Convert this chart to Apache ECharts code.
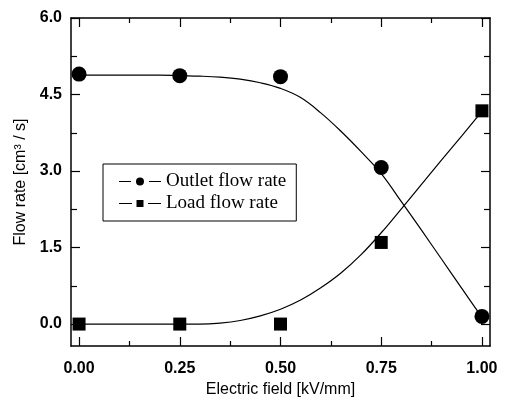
<!DOCTYPE html>
<html>
<head>
<meta charset="utf-8">
<script src="https://cdn.jsdelivr.net/npm/echarts@6/dist/echarts.min.js"></script>
<style>
	html, body {
		margin: 0;
		padding: 0;
		background: #fff;
	}
	#chart {
		width: 511px;
		height: 403px;
	}
</style>
</head>
<body>
<div id="chart"></div>
<script>
// measured points
const fieldX = [0, 0.25, 0.5, 0.75, 1.0];
const outletFlow = [4.9, 4.87, 4.85, 3.07, 0.15];
const loadFlow = [0, 0, 0, 1.6, 4.18];

// fitted curves
const fitX = [0, 0.05, 0.1, 0.15, 0.2, 0.25, 0.3, 0.35, 0.4, 0.45, 0.5, 0.55, 0.6, 0.65, 0.7, 0.75, 0.8, 0.85, 0.9, 0.95, 1.0];
const outletFit = [4.88, 4.88, 4.88, 4.88, 4.88, 4.87, 4.86, 4.84, 4.8, 4.73, 4.62, 4.44, 4.14, 3.78, 3.38, 2.95, 2.4, 1.84, 1.27, 0.7, 0.13];
const loadFit = [0, 0, 0, 0, 0, 0, 0, 0.02, 0.07, 0.16, 0.29, 0.47, 0.71, 1.0, 1.36, 1.79, 2.26, 2.74, 3.22, 3.69, 4.17];

// ticks
const xTicks = [0, 0.25, 0.5, 0.75, 1.0];
const xMinor = [0.125, 0.375, 0.625, 0.875];
const yTicks = [0, 1.5, 3.0, 4.5, 6.0];
const yMinor = [0.75, 2.25, 3.75, 5.25];

const pairs = (xs, ys) => xs.map((x, i) => [x, ys[i]]);

const labelFont = {
	fontFamily: "Liberation Sans",
	fontWeight: "bold",
	fontSize: 16,
	color: "#000",
};

function xAxisOf(pos, values, len, showLine, showLabel) {
	return {
		type: "value",
		position: pos,
		min: -0.02,
		max: 1.02,
		splitLine: { show: false },
		axisLine: { show: showLine, onZero: false, lineStyle: { color: "#000", width: 1.5 } },
		axisTick: { show: true, inside: true, length: len, customValues: values, lineStyle: { color: "#000", width: 1.2 } },
		axisLabel: showLabel
			? Object.assign({ show: true, margin: 15, customValues: values, formatter: (v) => v.toFixed(2) }, labelFont)
			: { show: false },
	};
}

function yAxisOf(pos, values, len, showLine, showLabel) {
	return {
		type: "value",
		position: pos,
		min: -0.43,
		max: 6.0,
		splitLine: { show: false },
		axisLine: { show: showLine, onZero: false, lineStyle: { color: "#000", width: 1.5 } },
		axisTick: { show: true, inside: true, length: len, customValues: values, lineStyle: { color: "#000", width: 1.2 } },
		axisLabel: showLabel
			? Object.assign({ show: true, margin: 9, customValues: values, formatter: (v) => v.toFixed(1) }, labelFont)
			: { show: false },
	};
}

let myChart = echarts.init(document.getElementById("chart"));

let xMain = xAxisOf("bottom", xTicks, 9, true, true);
xMain.name = "Electric field [kV/mm]";
xMain.nameLocation = "middle";
xMain.nameGap = 36;
xMain.nameTextStyle = { fontFamily: "Liberation Sans", fontSize: 16, color: "#000" };

let yMain = yAxisOf("left", yTicks, 9, true, true);
yMain.name = "Flow rate [cm³ / s]";
yMain.nameLocation = "middle";
yMain.nameGap = 38;
yMain.nameTextStyle = { fontFamily: "Liberation Sans", fontSize: 16, color: "#000" };

let option = {
	animation: false,
	backgroundColor: "#fff",
	grid: { left: 71, right: 21, top: 18, bottom: 57 },
	xAxis: [
		xMain,
		xAxisOf("bottom", xMinor, 5, false, false),
		xAxisOf("top", xTicks, 9, true, false),
		xAxisOf("top", xMinor, 5, false, false),
	],
	yAxis: [
		yMain,
		yAxisOf("left", yMinor, 6, false, false),
		yAxisOf("right", yTicks, 9, true, false),
		yAxisOf("right", yMinor, 6, false, false),
	],
	legend: {
		orient: "vertical",
		left: 103,
		top: 164,
		padding: [8, 10, 8, 16],
		itemGap: 3,
		itemWidth: 42,
		itemHeight: 10,
		itemTextGap: 16,
		borderColor: "#000",
		borderWidth: 1,
		textStyle: { fontFamily: "Liberation Serif", fontSize: 19, color: "#000" },
		data: [
			{
				name: "Outlet flow rate",
				icon: "path://M0,4.4H12V5.6H0Z M30,4.4H42V5.6H30Z M21,1A4,4 0 1,1 20.99,1Z",
			},
			{
				name: "Load flow rate",
				icon: "path://M0,4.4H13V5.6H0Z M29,4.4H42V5.6H29Z M17.5,1.5H24.5V8.5H17.5Z",
			},
		],
	},
	series: [
		{
			name: "outlet fit",
			type: "line",
			data: pairs(fitX, outletFit),
			smooth: 0.4,
			showSymbol: false,
			lineStyle: { color: "#000", width: 1.2 },
		},
		{
			name: "load fit",
			type: "line",
			data: pairs(fitX, loadFit),
			smooth: 0.4,
			showSymbol: false,
			lineStyle: { color: "#000", width: 1.2 },
		},
		{
			name: "Outlet flow rate",
			type: "scatter",
			data: pairs(fieldX, outletFlow),
			symbol: "circle",
			symbolSize: 15,
			itemStyle: { color: "#000", opacity: 1 },
			z: 5,
		},
		{
			name: "Load flow rate",
			type: "scatter",
			data: pairs(fieldX, loadFlow),
			symbol: "rect",
			symbolSize: 13,
			itemStyle: { color: "#000", opacity: 1 },
			z: 5,
		},
	],
};
myChart.setOption(option);
</script>
</body>
</html>
